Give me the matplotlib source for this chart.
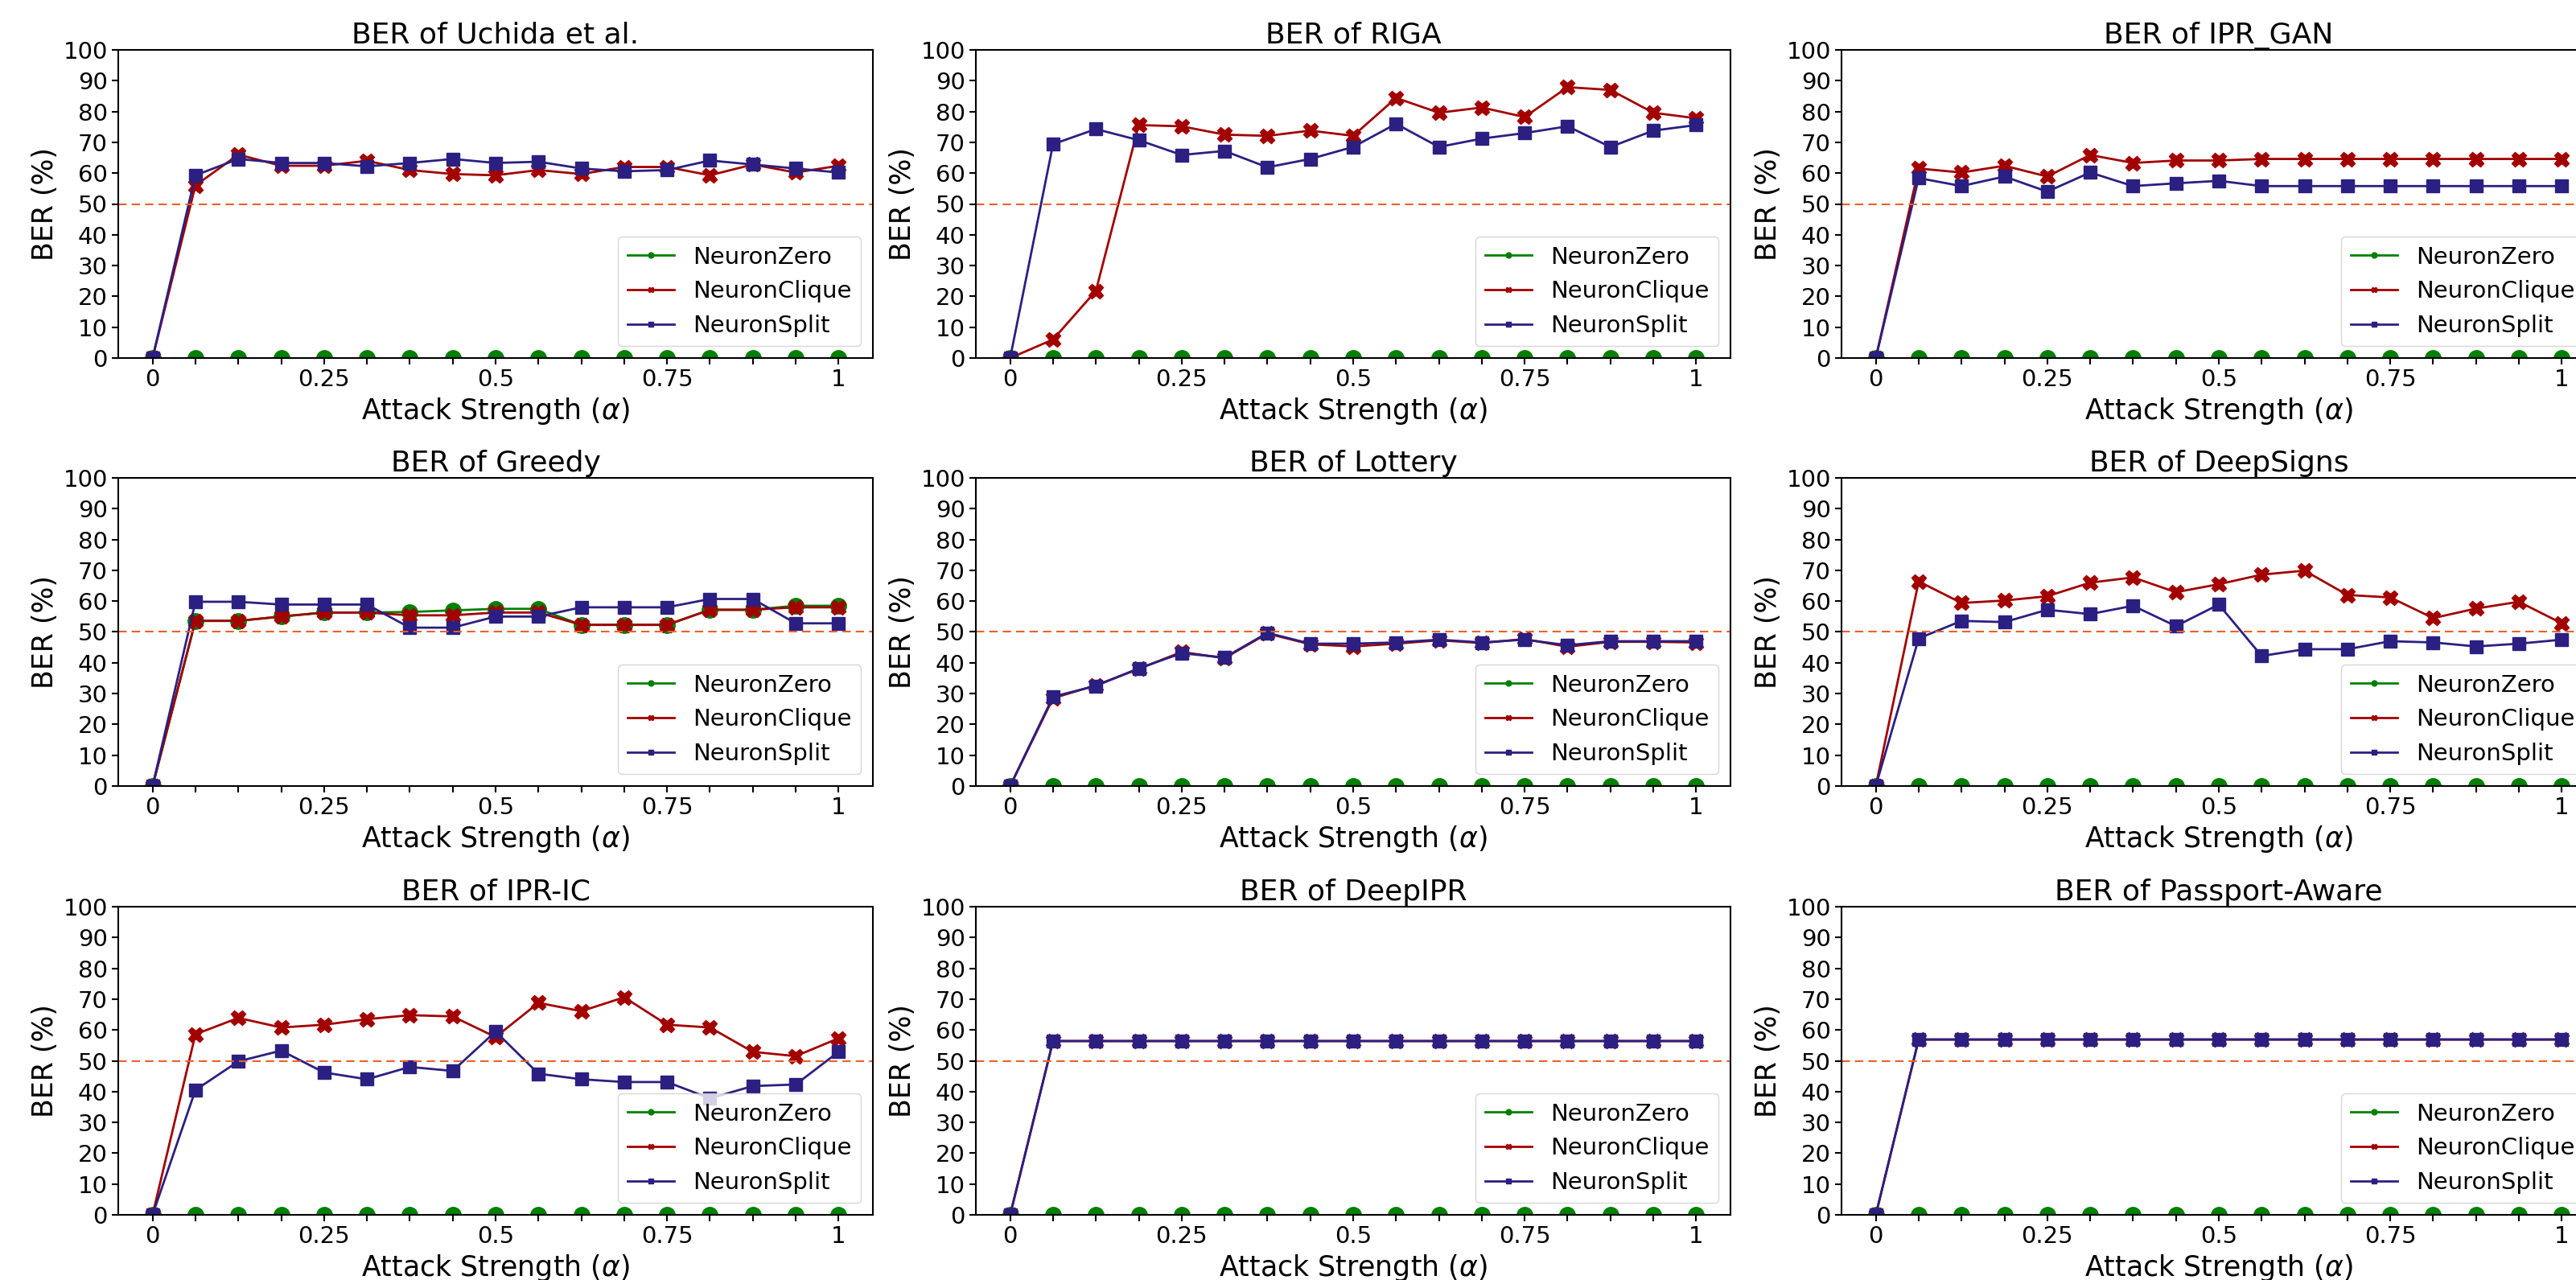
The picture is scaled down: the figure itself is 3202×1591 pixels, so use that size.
import numpy as np
import matplotlib.pyplot as plt

# attack strength, 17 steps from 0 to 1
alpha = np.linspace(0, 1, 17)
xtick_labels = ['0', '', '', '', '0.25', '', '', '', '0.5', '', '', '', '0.75', '', '', '', '1']

titles = ['BER of Uchida et al.', 'BER of RIGA', 'BER of IPR_GAN',
          'BER of Greedy', 'BER of Lottery', 'BER of DeepSigns',
          'BER of IPR-IC', 'BER of DeepIPR', 'BER of Passport-Aware']

zeros = [0] * 17

# Uchida et al.
uchida_zero = zeros
uchida_clique = [0, 56, 66, 62.4, 62.4, 64, 61, 59.7, 59.3, 61, 59.7, 62, 62, 59.3, 62.8, 60.2, 62.4]
uchida_split = [0, 59.3, 64.6, 63.3, 63.3, 62.2, 63.3, 64.6, 63.3, 63.7, 61.5, 60.6, 61, 64.1, 62.8, 61.5, 60.2]

# RIGA
riga_zero = zeros
riga_clique = [0, 6, 21.8, 75.6, 75.2, 72.5, 72.1, 73.8, 72.1, 84.4, 79.6, 81.3, 78.2, 87.9, 87, 79.6, 77.8]
riga_split = [0, 69.4, 74.3, 70.7, 65.9, 67.2, 61.9, 64.6, 68.5, 76, 68.5, 71.2, 73, 75.2, 68.5, 73.8, 75.6]

# IPR_GAN
gan_zero = zeros
gan_clique = [0, 61.5, 60.2, 62.4, 58.9, 65.9, 63.3, 64.1, 64.1, 64.6, 64.6, 64.6, 64.6, 64.6, 64.6, 64.6, 64.6]
gan_split = [0, 58.4, 55.8, 58.9, 54, 60.2, 55.8, 56.7, 57.5, 55.8, 55.8, 55.8, 55.8, 55.8, 55.8, 55.8, 55.8]

# Greedy
greedy_zero = [0, 53.6, 53.6, 55, 56.3, 56.3, 56.5, 57, 57.5, 57.5, 52.3, 52.3, 52.3, 57.2, 57.2, 58.5, 58.5]
greedy_clique = [0, 53.6, 53.6, 55, 56.3, 56.3, 55.4, 55.4, 56.3, 56.3, 52.3, 52.3, 52.3, 57.2, 57.2, 58, 58]
greedy_split = [0, 59.8, 59.8, 58.9, 58.9, 58.9, 51.4, 51.4, 55, 55, 58, 58, 58, 60.7, 60.7, 52.8, 52.8]

# Lottery
lottery_zero = zeros
lottery_clique = [0, 28.5, 32.7, 38, 43.5, 41.5, 49.5, 46, 45.3, 46.2, 47.3, 46.4, 47.7, 45.2, 46.8, 46.8, 46.6]
lottery_split = [0, 29, 32.5, 38.2, 43.1, 41.7, 49.7, 46.2, 46.2, 46.6, 47.5, 46.6, 47.5, 45.7, 47, 47, 47]

# DeepSigns
signs_zero = zeros
signs_clique = [0, 66.4, 59.4, 60.2, 61.6, 66, 67.7, 62.9, 65.5, 68.6, 69.9, 62, 61.2, 54.5, 57.6, 59.8, 52.8]
signs_split = [0, 47.9, 53.6, 53.2, 57.2, 55.8, 58.5, 51.9, 58.9, 42.2, 44.4, 44.4, 47, 46.6, 45.3, 46.2, 47.5]

# IPR-IC
ipric_zero = zeros
ipric_clique = [0, 58.6, 63.9, 60.8, 61.7, 63.5, 64.8, 64.4, 57.7, 68.8, 66.1, 70.6, 61.7, 60.8, 52.9, 51.5, 57.3]
ipric_split = [0, 40.5, 49.8, 53.3, 46.2, 44, 48, 46.7, 59.5, 45.8, 44, 43.1, 43.1, 37.8, 41.8, 42.3, 52.9]

# DeepIPR
deepipr_zero = zeros
deepipr_clique = [0] + [56.4] * 16
deepipr_split = [0] + [56.4] * 16

# Passport-Aware
passport_zero = zeros
passport_clique = [0] + [56.9] * 16
passport_split = [0] + [56.9] * 16

zero_all = [uchida_zero, riga_zero, gan_zero, greedy_zero, lottery_zero, signs_zero,
            ipric_zero, deepipr_zero, passport_zero]
clique_all = [uchida_clique, riga_clique, gan_clique, greedy_clique, lottery_clique, signs_clique,
              ipric_clique, deepipr_clique, passport_clique]
split_all = [uchida_split, riga_split, gan_split, greedy_split, lottery_split, signs_split,
             ipric_split, deepipr_split, passport_split]

W, H = 3202, 1591
fig = plt.figure(figsize=(W / 100, H / 100), dpi=100)

col_left = [147, 1213, 2289]
row_top = [62, 594, 1127]
ax_w, ax_h = 938, 383

for k in range(9):
    r, c = divmod(k, 3)
    ax = fig.add_axes([col_left[c] / W, 1 - (row_top[r] + ax_h) / H, ax_w / W, ax_h / H])
    ax.plot(alpha, zero_all[k], color='green', marker='o', markersize=14, lw=2, label='NeuronZero')
    ax.plot(alpha, clique_all[k], color='#a30000', marker='X', markersize=13, lw=2, label='NeuronClique')
    ax.plot(alpha, split_all[k], color='#2b1f82', marker='s', markersize=11, lw=2, label='NeuronSplit')
    ax.axhline(50, color='#e8622a', lw=1.5, linestyle=(0, (5, 3)))
    ax.set_ylim(0, 100)
    ax.set_xlim(-0.05, 1.05)
    ax.set_yticks(range(0, 101, 10))
    ax.set_xticks(alpha)
    ax.set_xticklabels(xtick_labels)
    ax.tick_params(labelsize=21, length=6, width=1.5)
    for s in ax.spines.values():
        s.set_linewidth(1.5)
    ax.set_title(titles[k], fontsize=26)
    ax.set_xlabel(r'Attack Strength ($\alpha$)', fontsize=25)
    ax.set_ylabel('BER (%)', fontsize=25)
    ax.legend(loc='lower right', fontsize=21, markerscale=0.35)

fig.savefig('out.png', dpi=100)
